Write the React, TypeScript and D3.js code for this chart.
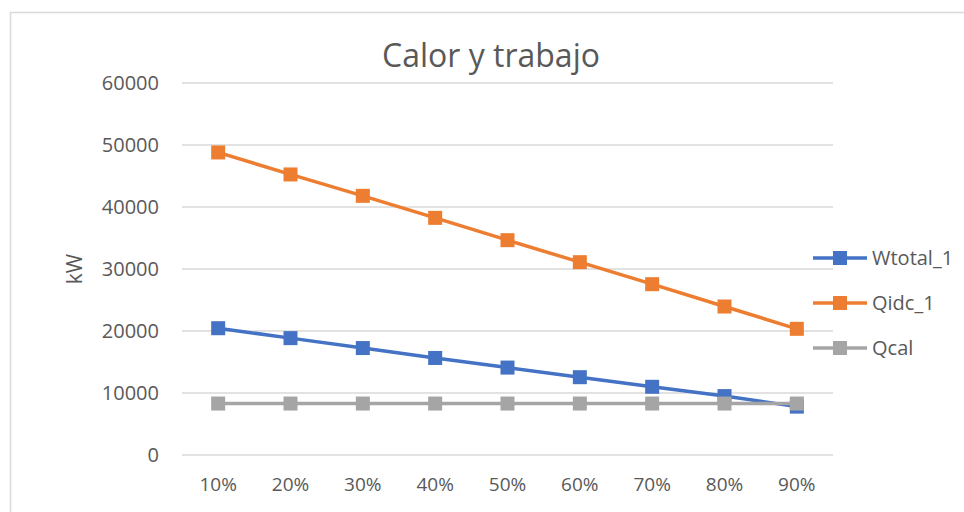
import React, { useEffect, useRef } from 'react';
import * as d3 from 'd3';

const categories = ['10%', '20%', '30%', '40%', '50%', '60%', '70%', '80%', '90%'];
const wtotal = [20450, 18850, 17250, 15650, 14100, 12550, 11000, 9500, 7800];
const qidc = [48800, 45250, 41800, 38250, 34650, 31100, 27550, 23950, 20350];
const qcal = [8300, 8300, 8300, 8300, 8300, 8300, 8300, 8300, 8300];
const yTicks = [0, 10000, 20000, 30000, 40000, 50000, 60000];

const seriesList = [
  { name: 'Wtotal_1', values: wtotal, color: '#4472C4' },
  { name: 'Qidc_1', values: qidc, color: '#ED7D31' },
  { name: 'Qcal', values: qcal, color: '#A5A5A5' },
];

const W = 964;
const H = 512;
const font = "'Open Sans', 'Noto Sans', sans-serif";

export default function App() {
  const ref = useRef<SVGSVGElement>(null);

  useEffect(() => {
    const svg = d3.select(ref.current);
    svg.selectAll('*').remove();

    const left = 182, right = 833, top = 83, bottom = 455;

    const x = d3.scaleBand().domain(categories).range([left, right]);
    const y = d3.scaleLinear().domain([0, 60000]).range([bottom, top]);

    svg.append('rect')
      .attr('x', 0).attr('y', 0).attr('width', W).attr('height', H)
      .attr('fill', '#fff');

    // chart frame
    svg.append('rect')
      .attr('x', 10.5).attr('y', 12.5).attr('width', 1200).attr('height', 800)
      .attr('fill', 'none').attr('stroke', '#D9D9D9').attr('stroke-width', 1.5);

    // gridlines
    svg.append('g').selectAll('line').data(yTicks).enter().append('line')
      .attr('x1', left).attr('x2', right)
      .attr('y1', d => y(d)).attr('y2', d => y(d))
      .attr('stroke', '#D9D9D9').attr('stroke-width', 1.5);

    // y axis labels
    const yAxis = svg.append('g')
      .attr('transform', `translate(${left - 23},0)`)
      .call(d3.axisLeft(y).tickValues(yTicks).tickFormat(d3.format('d')).tickSize(0).tickPadding(0));
    yAxis.select('.domain').remove();
    yAxis.selectAll('text')
      .attr('font-family', font).attr('font-size', 20).attr('fill', '#595959');

    // x axis labels
    const xAxis = svg.append('g')
      .attr('transform', `translate(0,${bottom + 22})`)
      .call(d3.axisBottom(x).tickSize(0).tickPadding(0));
    xAxis.select('.domain').remove();
    xAxis.selectAll('text')
      .attr('font-family', font).attr('font-size', 19).attr('fill', '#595959');

    // axis title
    svg.append('text')
      .attr('transform', `translate(82,${(top + bottom) / 2}) rotate(-90)`)
      .attr('text-anchor', 'middle')
      .attr('font-family', font).attr('font-size', 21).attr('fill', '#595959')
      .text('kW');

    // chart title
    svg.append('text')
      .attr('x', 491).attr('y', 67)
      .attr('text-anchor', 'middle')
      .attr('font-family', font).attr('font-size', 32).attr('fill', '#595959')
      .text('Calor y trabajo');

    const cx = (c: string) => (x(c) || 0) + x.bandwidth() / 2;
    const line = d3.line<number>()
      .x((d, i) => cx(categories[i]))
      .y(d => y(d));

    const ms = 14;
    seriesList.forEach(s => {
      const g = svg.append('g');
      g.append('path')
        .attr('d', line(s.values))
        .attr('fill', 'none').attr('stroke', s.color).attr('stroke-width', 3.5)
        .attr('stroke-linejoin', 'round');
      g.selectAll('rect').data(s.values).enter().append('rect')
        .attr('x', (d, i) => cx(categories[i]) - ms / 2)
        .attr('y', d => y(d) - ms / 2)
        .attr('width', ms).attr('height', ms)
        .attr('fill', s.color);
    });

    // legend
    const legend = svg.append('g');
    seriesList.forEach((s, i) => {
      const ly = 258 + i * 45;
      legend.append('line')
        .attr('x1', 813).attr('x2', 867).attr('y1', ly).attr('y2', ly)
        .attr('stroke', s.color).attr('stroke-width', 3.5);
      legend.append('rect')
        .attr('x', 840 - ms / 2).attr('y', ly - ms / 2)
        .attr('width', ms).attr('height', ms).attr('fill', s.color);
      legend.append('text')
        .attr('x', 872).attr('y', ly).attr('dy', '0.35em')
        .attr('font-family', font).attr('font-size', 20).attr('fill', '#595959')
        .text(s.name);
    });
  }, []);

  return (
    <svg ref={ref} width={W} height={H}
      style={{ position: 'absolute', left: 0, top: 0, display: 'block' }} />
  );
}
